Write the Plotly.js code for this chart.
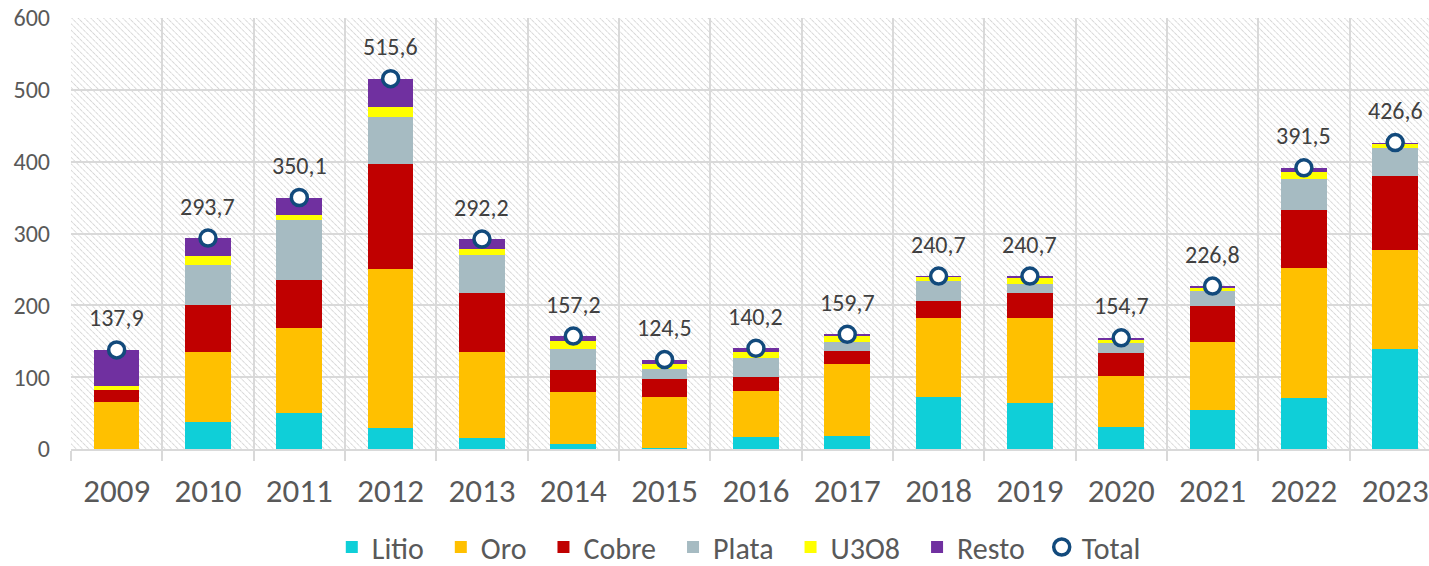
<!DOCTYPE html>
<html>
<head>
<meta charset="utf-8">
<script src="https://cdn.plot.ly/plotly-3.0.1.min.js"></script>
<style>html,body{margin:0;padding:0;background:#fff}#chart{width:1429px;height:566px}</style>
</head>
<body>
<div id="chart"></div>
<script>
var years = ['2009','2010','2011','2012','2013','2014','2015','2016','2017','2018','2019','2020','2021','2022','2023'];
var litio = [0, 37.6, 50.6, 29.2, 15.8, 6.5, 2.0, 16.7, 18.6, 72.8, 64.5, 30.2, 54.7, 71.4, 139.2];
var oro   = [66.0, 97.9, 118.3, 221.8, 119.2, 73.3, 71.0, 64.5, 99.3, 110.0, 118.3, 71.9, 94.3, 180.2, 137.4];
var cobre = [16.0, 65.0, 66.9, 145.8, 81.7, 30.6, 24.7, 19.0, 18.5, 22.8, 34.8, 32.0, 50.5, 81.6, 103.9];
var plata = [0.5, 56.1, 83.0, 65.4, 53.4, 29.2, 13.9, 26.9, 13.0, 28.3, 12.5, 13.9, 20.9, 43.1, 38.1];
var u3o8  = [5.5, 12.1, 7.4, 14.4, 8.3, 11.2, 6.9, 7.9, 8.4, 6.0, 8.4, 4.2, 4.2, 9.3, 6.0];
var resto = [49.9, 25.0, 23.9, 39.0, 13.8, 6.4, 6.0, 5.2, 1.9, 0.8, 2.2, 2.5, 2.2, 5.9, 2.0];
var total = [137.9, 293.7, 350.1, 515.6, 292.2, 157.2, 124.5, 140.2, 159.7, 240.7, 240.7, 154.7, 226.8, 391.5, 426.6];

var seriesNames  = ['Litio','Oro','Cobre','Plata','U3O8','Resto'];
var seriesData   = [litio, oro, cobre, plata, u3o8, resto];
var seriesColors = ['#0fcfd8','#ffc000','#c00000','#a6bbc2','#ffff00','#7030a0'];

var FONT = "Carlito, Calibri, Lato, sans-serif";
var PAD = '\u2009\u2009';

var traces = seriesNames.map(function(n, i){
  return {type:'bar', name:n + PAD, x:years, y:seriesData[i],
    marker:{color:seriesColors[i], line:{width:0}}, hoverinfo:'skip'};
});
traces.push({type:'scatter', mode:'markers', name:'Total', x:years, y:total,
  marker:{symbol:'circle', size:16, color:'#ffffff', line:{color:'#124a7c', width:3.5}},
  cliponaxis:false});

var annotations = years.map(function(yr, i){
  return {x:i, y:total[i], xref:'x', yref:'y', text: total[i].toFixed(1).replace('.', ','),
    showarrow:false, yshift:32, yanchor:'middle',
    font:{family:FONT, size:24, color:'#404040'}};
});

var svg = '<svg xmlns="http://www.w3.org/2000/svg" width="1358" height="431" viewBox="0 0 1358 431" preserveAspectRatio="none">'+
  '<defs><pattern id="p" width="4.5" height="4.5" patternUnits="userSpaceOnUse" patternTransform="rotate(-45)">'+
  '<line x1="0" y1="0" x2="0" y2="4.5" stroke="#cccccc" stroke-width="1.4" stroke-dasharray="2.2,0.8"/></pattern></defs>'+
  '<rect width="1358" height="431" fill="#ffffff"/><rect width="1358" height="431" fill="url(#p)"/></svg>';
var svgUri = 'data:image/svg+xml;charset=utf-8,' + encodeURIComponent(svg);

var layout = {
  width:1429, height:566,
  margin:{l:71, r:0, t:18, b:117, autoexpand:false},
  paper_bgcolor:'#ffffff', plot_bgcolor:'#ffffff',
  barmode:'stack', bargap:0.5,
  font:{family:FONT, color:'#595959'},
  separators:',.',
  showlegend:true,
  legend:{orientation:'h', xref:'container', yref:'container', x:0.517, xanchor:'center', y:19/566, yanchor:'middle',
    font:{family:FONT, size:30, color:'#595959'}, traceorder:'normal', itemwidth:30},
  xaxis:{type:'category', range:[-0.5, 14.37], tickson:'boundaries',
    showgrid:true, gridcolor:'#d9d9d9', gridwidth:2,
    showline:true, linecolor:'#d9d9d9', linewidth:2,
    ticks:'outside', ticklen:10, tickcolor:'#d9d9d9', tickwidth:2,
    tickfont:{family:FONT, size:33, color:'#595959'}, ticklabelstandoff:11},
  yaxis:{range:[0,600], dtick:100, tick0:0, showgrid:true, gridcolor:'#d9d9d9', gridwidth:2,
    zeroline:false, showline:false, ticks:'',
    tickfont:{family:FONT, size:24, color:'#595959'}, ticklabelstandoff:20},
  images:[{source:svgUri, xref:'paper', yref:'paper', x:0, y:1, sizex:1, sizey:1,
    xanchor:'left', yanchor:'top', sizing:'stretch', layer:'below'}],
  annotations:annotations
};

Plotly.newPlot('chart', traces, layout, {staticPlot:true, displayModeBar:false});
</script>
</body>
</html>
